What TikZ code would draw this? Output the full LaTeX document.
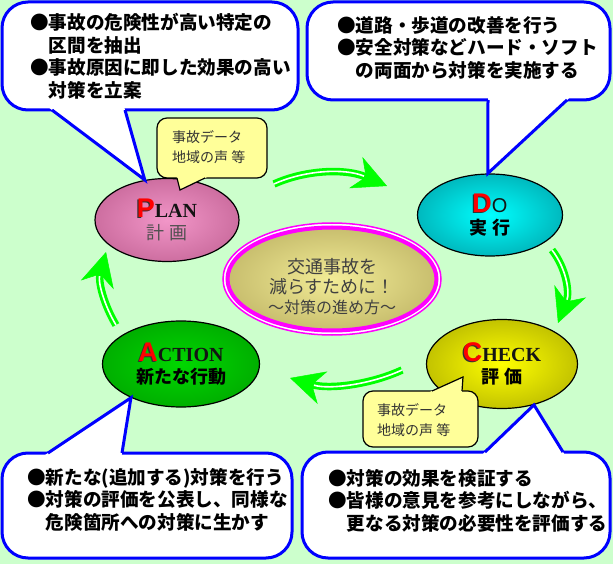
\documentclass[tikz,border=0pt]{standalone}
\usepackage{fontspec}
\newfontfamily\jp{Noto Sans CJK JP}
\newfontfamily\romanfont{Liberation Serif}
\newfontfamily\letterfont{Liberation Sans}
\usepackage{tikz}
\usetikzlibrary{shapes.geometric,arrows.meta,calc}

\definecolor{bggreen}{RGB}{204,255,204}
\definecolor{arrowgreen}{RGB}{0,255,0}
\definecolor{bubbleblue}{RGB}{0,0,255}
\definecolor{noteyellow}{RGB}{255,255,153}
\definecolor{notegray}{RGB}{50,50,50}
\definecolor{goalpink}{RGB}{255,0,255}
\definecolor{goalgray}{RGB}{64,64,64}
\definecolor{darktext}{RGB}{20,20,20}
\definecolor{plangray}{RGB}{80,80,80}
\definecolor{planin}{RGB}{242,150,200}
\definecolor{planout}{RGB}{205,110,160}
\definecolor{doin}{RGB}{0,255,255}
\definecolor{doout}{RGB}{0,185,190}
\definecolor{checkin}{RGB}{255,255,0}
\definecolor{checkout}{RGB}{195,195,0}
\definecolor{actin}{RGB}{0,215,0}
\definecolor{actout}{RGB}{0,175,0}
\definecolor{goalin}{RGB}{242,236,150}
\definecolor{goalout}{RGB}{200,190,110}

% big red first letter with a dark shadow
\newcommand{\pdcaletter}[1]{{\letterfont\bfseries\fontsize{27}{27}\selectfont\rlap{\hspace{-1.3pt}\raisebox{-1.3pt}{\color{black!80}#1}}\color{red}#1}}
\newcommand{\restword}[1]{{\romanfont\bfseries\fontsize{20}{20}\selectfont\color{darktext}#1}}
\newcommand{\indentline}{\hphantom{●}}

\tikzset{
  phase/.style={ellipse, draw=black, line width=1.2pt, inner sep=0pt, align=center, font=\jp\fontsize{18}{22}\selectfont},
  bubble/.style={draw=bubbleblue, fill=white, line width=3pt, rounded corners=26pt},
  pointer/.style={draw=bubbleblue, line width=3pt},
  bubbletext/.style={anchor=north west, inner sep=0pt, align=left, font=\jp\bfseries\fontsize{18.6}{22.5}\selectfont},
  note/.style={draw=black, fill=noteyellow, line width=1.2pt, rounded corners=10pt},
  notepointer/.style={draw=black, line width=1.2pt},
  notetext/.style={anchor=north west, inner sep=0pt, align=left, text=notegray, font=\jp\fontsize{14}{20}\selectfont},
  cyclearrow/.style={draw=arrowgreen, line width=7.5pt, -{Stealth[length=34pt,width=34pt,inset=11pt,line width=0.5pt]},
    postaction={draw=white, line width=1.6pt, -, shorten >=25pt}},
}

\begin{document}
\begin{tikzpicture}[x=1pt,y=-1pt]
    % background
    \path[use as bounding box, fill=bggreen] (0,0) rectangle (613,564);

    % draw the four phases
    \node[phase, minimum width=144pt, minimum height=83pt, inner color=planin, outer color=planout] (plan) at (167,220)
        {\pdcaletter{P}\restword{LAN}\\{\color{plangray}計 画}};
    \node[phase, minimum width=145pt, minimum height=82pt, inner color=doin, outer color=doout] (do) at (490,215)
        {\pdcaletter{D}{\letterfont\fontsize{20}{20}\selectfont\color{darktext}O}\\{\bfseries 実 行}};
    \node[phase, minimum width=151pt, minimum height=89pt, inner color=checkin, outer color=checkout] (check) at (502,364)
        {\pdcaletter{C}\restword{HECK}\\{\bfseries 評 価}};
    \node[phase, minimum width=157pt, minimum height=86pt, inner color=actin, outer color=actout] (action) at (181,364)
        {\pdcaletter{A}\restword{CTION}\\{\bfseries 新たな行動}};

    % draw the goal in the middle
    \node[ellipse, draw=goalpink, line width=1.5pt, fill=white, minimum width=218pt, minimum height=112pt] (goal) at (332,279) {};
    \node[ellipse, draw=goalpink, line width=4pt, inner color=goalin, outer color=goalout, minimum width=209pt, minimum height=103pt] (goalcore) at (goal.center) {};
    \node[align=center, inner sep=0pt, text=goalgray, font=\jp\fontsize{18}{20}\selectfont] (goaltext) at ($(goal.center)+(0,8)$)
        {交通事故を\\減らすために！\\{\fontsize{16}{20}\selectfont ～対策の進め方～}};

    % draw the cycle arrows
    \coordinate (pdstart) at (274,184);
    \coordinate (pdend) at (387,186);
    \coordinate (dcstart) at (552,250);
    \coordinate (dcend) at (558,323);
    \coordinate (castart) at (402,370);
    \coordinate (caend) at (290,378);
    \coordinate (apstart) at (116,325);
    \coordinate (apend) at (106,252);
    \draw[cyclearrow] (pdstart) .. controls (305,170) and (345,168) .. (pdend);
    \draw[cyclearrow] (dcstart) .. controls (566,268) and (570,292) .. (dcend);
    \draw[cyclearrow] (castart) .. controls (372,384) and (330,390) .. (caend);
    \draw[cyclearrow] (apstart) .. controls (104,305) and (98,282) .. (apend);

    % speech bubbles
    \draw[bubble] (2,2) rectangle (298,110);
    \draw[bubble] (307,2) rectangle (610,100);
    \draw[bubble] (2,453) rectangle (292,558);
    \draw[bubble] (302,452) rectangle (610,558);

    \coordinate (planbase1) at (52,110);
    \coordinate (planbase2) at (125,110);
    \coordinate (dobase1) at (488,100);
    \coordinate (dobase2) at (567,100);
    \coordinate (actionbase1) at (48,453);
    \coordinate (actionbase2) at (122,453);
    \coordinate (checkbase1) at (485,452);
    \coordinate (checkbase2) at (563,452);

    \foreach \ph/\ang in {plan/119, do/93, action/214, check/308}{
        \fill[white] ($(\ph.\ang)!1.08!(\ph base1)$) -- (\ph.\ang) -- ($(\ph.\ang)!1.08!(\ph base2)$) -- cycle;
        \draw[pointer] (\ph base1) -- (\ph.\ang) -- (\ph base2);
    }

    \node[bubbletext] (plantext) at (30,13)
        {●事故の危険性が高い特定の\\\indentline 区間を抽出\\●事故原因に即した効果の高い\\\indentline 対策を立案};
    \node[bubbletext] (dotext) at (337,16)
        {●道路・歩道の改善を行う\\●安全対策などハード・ソフト\\\indentline の両面から対策を実施する};
    \node[bubbletext] (actiontext) at (27,468)
        {●新たな(追加する)対策を行う\\●対策の評価を公表し、同様な\\\indentline 危険箇所への対策に生かす};
    \node[bubbletext] (checktext) at (328,469)
        {●対策の効果を検証する\\●皆様の意見を参考にしながら、\\\indentline 更なる対策の必要性を評価する};

    % data notes
    \draw[note] (157,118) rectangle (267,178);
    \draw[note] (363,391) rectangle (478,447);
    \coordinate (plannote) at ($(plan.center)+(13,-30)$);
    \coordinate (checknote) at ($(check.center)+(-39,13)$);
    \coordinate (plannotebase1) at (177,178);
    \coordinate (plannotebase2) at (205,178);
    \coordinate (checknotebase1) at (432,391);
    \coordinate (checknotebase2) at (462,391);
    \foreach \nt in {plannote, checknote}{
        \fill[noteyellow] ($(\nt)!1.15!(\nt base1)$) -- (\nt) -- ($(\nt)!1.15!(\nt base2)$) -- cycle;
        \draw[notepointer] (\nt base1) -- (\nt) -- (\nt base2);
    }
    \node[notetext] (plannotetext) at (172,130) {事故データ\\地域の声 等};
    \node[notetext] (checknotetext) at (377,403) {事故データ\\地域の声 等};
\end{tikzpicture}
\end{document}
